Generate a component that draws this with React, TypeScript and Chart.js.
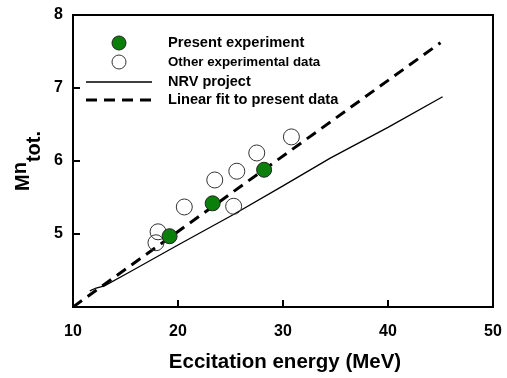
import React, { useEffect, useRef } from "react";
import { Chart, registerables } from "chart.js";

Chart.register(...registerables);

const presentX = [19.2, 23.3, 28.2];
const presentY = [4.97, 5.42, 5.88];

const otherX = [18.1, 17.9, 20.6, 23.5, 25.3, 25.6, 27.5, 30.8];
const otherY = [5.03, 4.88, 5.37, 5.74, 5.38, 5.86, 6.11, 6.33];

const nrvX = [11.6, 12.2, 13.0, 15.4, 20.0, 25.2, 30.0, 34.5, 40.0, 45.2];
const nrvY = [4.22, 4.26, 4.29, 4.48, 4.85, 5.26, 5.66, 6.04, 6.46, 6.88];

const fitX = [10, 45];
const fitY = [4.0, 7.62];

const xTicks = [10, 20, 30, 40, 50];
const yTicks = [4, 5, 6, 7, 8];

const legendLabels = [
  "Present experiment",
  "Other experimental data",
  "NRV project",
  "Linear fit to present data",
];
const legendSizes = [14.7, 13.3, 14.5, 14.6];

const xTitle = "Eccitation energy (MeV)";

const zip = (xs: number[], ys: number[]) => xs.map((x, i) => ({ x, y: ys[i] }));

const FONT = "Arial, 'Liberation Sans', sans-serif";
const GREEN = "#0a800a";

const framePlugin = {
  id: "frame",
  afterDatasetsDraw(chart: any) {
    const { ctx, chartArea: a, scales } = chart;
    ctx.save();
    ctx.strokeStyle = "#000";
    ctx.lineWidth = 2;
    ctx.strokeRect(a.left, a.top, a.right - a.left, a.bottom - a.top);
    // inward ticks
    xTicks.forEach((v) => {
      const px = scales.x.getPixelForValue(v);
      ctx.beginPath();
      ctx.moveTo(px, a.bottom);
      ctx.lineTo(px, a.bottom - 7);
      ctx.stroke();
    });
    yTicks.forEach((v) => {
      const py = scales.y.getPixelForValue(v);
      ctx.beginPath();
      ctx.moveTo(a.left, py);
      ctx.lineTo(a.left + 7, py);
      ctx.stroke();
    });

    // legend
    const lx = a.left + 46;
    const tx = a.left + 95;
    const rows = [43, 62, 82, 100];
    ctx.lineWidth = 1;
    ctx.beginPath();
    ctx.arc(lx, rows[0], 7, 0, Math.PI * 2);
    ctx.fillStyle = GREEN;
    ctx.fill();
    ctx.strokeStyle = "#222";
    ctx.stroke();
    ctx.beginPath();
    ctx.arc(lx, rows[1], 7, 0, Math.PI * 2);
    ctx.fillStyle = "#fff";
    ctx.fill();
    ctx.strokeStyle = "#333";
    ctx.stroke();
    ctx.strokeStyle = "#000";
    ctx.lineWidth = 1.3;
    ctx.beginPath();
    ctx.moveTo(a.left + 13, rows[2]);
    ctx.lineTo(a.left + 79, rows[2]);
    ctx.stroke();
    ctx.lineWidth = 3;
    ctx.setLineDash([11, 7]);
    ctx.beginPath();
    ctx.moveTo(a.left + 13, rows[3]);
    ctx.lineTo(a.left + 79, rows[3]);
    ctx.stroke();
    ctx.setLineDash([]);
    ctx.fillStyle = "#000";
    ctx.textBaseline = "middle";
    ctx.textAlign = "left";
    legendLabels.forEach((t, i) => {
      ctx.font = `bold ${legendSizes[i]}px ${FONT}`;
      ctx.fillText(t, tx, rows[i]);
    });

    // x title
    ctx.font = `bold 20.5px ${FONT}`;
    ctx.textAlign = "center";
    ctx.textBaseline = "alphabetic";
    ctx.fillText(xTitle, 285, 368);

    // y title: M^n_tot.
    ctx.save();
    ctx.translate(0, 191);
    ctx.rotate(-Math.PI / 2);
    ctx.textAlign = "left";
    ctx.textBaseline = "alphabetic";
    ctx.font = `bold 20px ${FONT}`;
    ctx.fillText("M", 0, 29);
    const mw = ctx.measureText("M").width;
    ctx.fillText("n", mw, 25.5);
    const nw = ctx.measureText("n").width;
    ctx.fillText("tot.", mw + nw, 40);
    ctx.restore();

    ctx.restore();
  },
};

export default function App() {
  const ref = useRef<HTMLCanvasElement | null>(null);
  useEffect(() => {
    if (!ref.current) return;
    const chart = new Chart(ref.current, {
      type: "scatter",
      data: {
        datasets: [
          {
            label: "Present experiment",
            data: zip(presentX, presentY),
            backgroundColor: GREEN,
            borderColor: "#222",
            borderWidth: 1,
            pointRadius: 7.5,
            order: 1,
          },
          {
            label: "Other experimental data",
            data: zip(otherX, otherY),
            backgroundColor: "rgba(255,255,255,0)",
            borderColor: "#333",
            borderWidth: 1,
            pointRadius: 8,
            order: 2,
          },
          {
            type: "line",
            label: "NRV project",
            data: zip(nrvX, nrvY),
            borderColor: "#000",
            borderWidth: 1.3,
            pointRadius: 0,
            fill: false,
            order: 4,
          },
          {
            type: "line",
            label: "Linear fit to present data",
            data: zip(fitX, fitY),
            borderColor: "#000",
            borderWidth: 3,
            borderDash: [11, 7],
            pointRadius: 0,
            fill: false,
            order: 3,
          },
        ] as any,
      },
      options: {
        animation: false,
        responsive: false,
        maintainAspectRatio: false,
        layout: { padding: { top: 15, right: 14, left: 0, bottom: 0 } },
        plugins: {
          legend: { display: false },
          tooltip: { enabled: false },
        },
        scales: {
          x: {
            type: "linear",
            min: 10,
            max: 50,
            afterBuildTicks: (s: any) => {
              s.ticks = xTicks.map((v) => ({ value: v }));
            },
            afterFit: (s: any) => {
              s.height = 71;
              s.paddingLeft = 0;
              s.paddingRight = 0;
            },
            grid: { display: false, drawTicks: false },
            border: { display: false },
            ticks: {
              color: "#000",
              padding: 15,
              font: { family: FONT, size: 16, weight: "bold" },
              maxRotation: 0,
            },
          },
          y: {
            type: "linear",
            min: 4,
            max: 8,
            afterBuildTicks: (s: any) => {
              s.ticks = yTicks.map((v) => ({ value: v }));
            },
            afterFit: (s: any) => {
              s.width = 73;
              s.paddingTop = 0;
              s.paddingBottom = 0;
            },
            grid: { display: false, drawTicks: false },
            border: { display: false },
            ticks: {
              color: "#000",
              padding: 10,
              font: { family: FONT, size: 16, weight: "bold" },
              callback: (v: any) => (v === 4 ? "" : String(v)),
            },
          },
        },
      },
      plugins: [framePlugin],
    });
    return () => chart.destroy();
  }, []);
  return (
    <div style={{ position: "fixed", left: 0, top: 0, width: 507, height: 378, background: "#fff" }}>
      <canvas ref={ref} width={507} height={378} style={{ width: 507, height: 378 }} />
    </div>
  );
}
